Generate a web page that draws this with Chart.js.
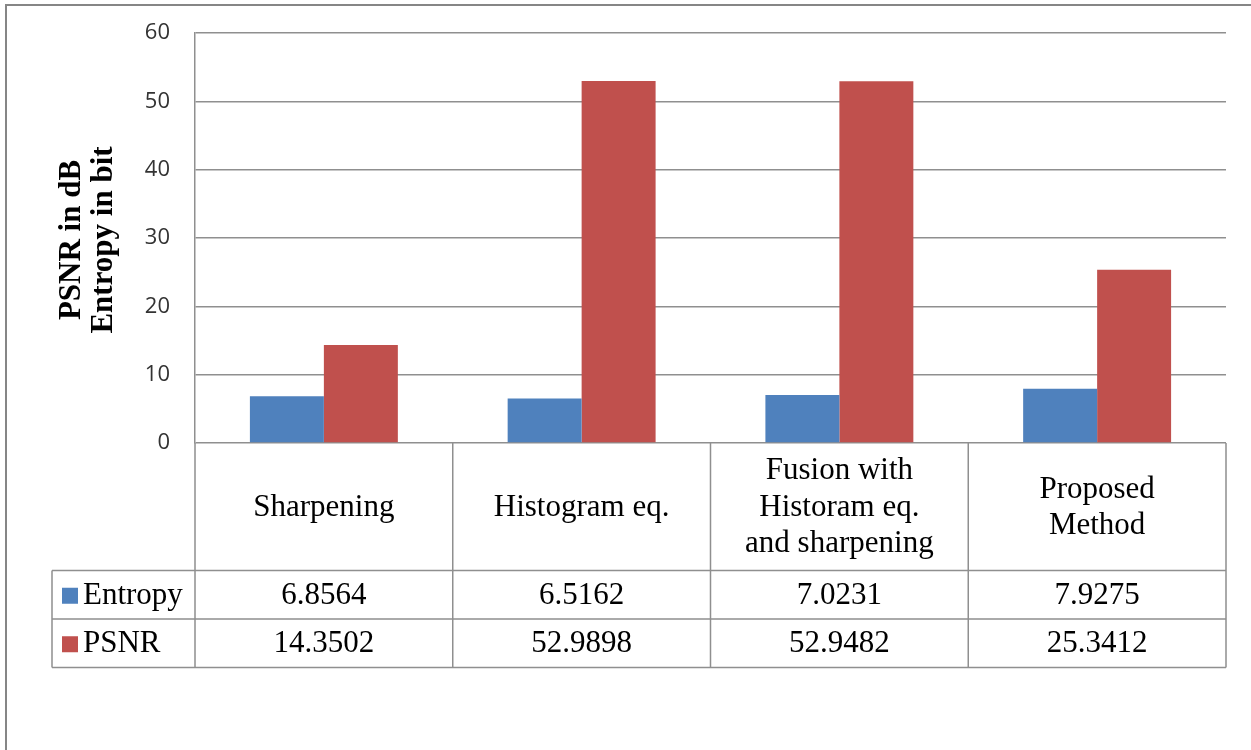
<!DOCTYPE html>
<html>
<head>
<meta charset="utf-8">
<script src="https://cdn.jsdelivr.net/npm/chart.js@4/dist/chart.umd.min.js"></script>
<style>
  html, body { margin: 0; padding: 0; background: #fff; }
  #wrap { width: 1251px; height: 750px; }
</style>
</head>
<body>
<div id="wrap"><canvas id="c" width="1251" height="750"></canvas></div>
<script>
// Methods compared, with the line breaks used in the table header cells
const categories = [
  ['Sharpening'],
  ['Histogram eq.'],
  ['Fusion with', 'Historam eq.', 'and sharpening'],
  ['Proposed', 'Method']
];
const entropy = [6.8564, 6.5162, 7.0231, 7.9275];
const psnr = [14.3502, 52.9898, 52.9482, 25.3412];
const seriesNames = ['Entropy', 'PSNR'];
const seriesColors = ['#4f81bd', '#c0504d'];
const axisTitle = ['PSNR in dB', 'Entropy in bit'];
const yMin = 0, yMax = 60, yStep = 10;

const LINE = '#8f8f8f';
const SERIF = '"Liberation Serif", "Times New Roman", serif';

// Outer frame around the whole chart
const framePlugin = {
  id: 'frame',
  beforeDraw(chart) {
    const ctx = chart.ctx;
    ctx.save();
    ctx.fillStyle = '#fff';
    ctx.fillRect(0, 0, chart.width, chart.height);
    ctx.strokeStyle = '#868686';
    ctx.lineWidth = 2;
    ctx.beginPath();
    ctx.moveTo(6, chart.height);
    ctx.lineTo(6, 5);
    ctx.lineTo(chart.width, 5);
    ctx.stroke();
    ctx.restore();
  }
};

// Rotated two-line axis title on the left
const axisTitlePlugin = {
  id: 'axisTitle',
  afterDraw(chart) {
    const ctx = chart.ctx;
    const a = chart.chartArea;
    const cy = (a.top + a.bottom) / 2;
    ctx.save();
    ctx.fillStyle = '#000';
    ctx.font = 'bold 31px ' + SERIF;
    ctx.textAlign = 'center';
    ctx.textBaseline = 'alphabetic';
    const baselines = [80, 112];
    axisTitle.forEach((t, i) => {
      ctx.save();
      ctx.translate(baselines[i], cy + 2);
      ctx.rotate(-Math.PI / 2);
      ctx.fillText(t, 0, 0);
      ctx.restore();
    });
    ctx.restore();
  }
};

// Data table under the plot: category header row plus one row per series
const dataTablePlugin = {
  id: 'dataTable',
  afterDraw(chart) {
    const ctx = chart.ctx;
    const a = chart.chartArea;
    const x = chart.scales.x;
    const n = categories.length;
    const bounds = [a.left];
    for (let i = 1; i < n; i++) {
      bounds.push((x.getPixelForValue(i - 1) + x.getPixelForValue(i)) / 2);
    }
    bounds.push(a.right);

    const rowTop = a.bottom;
    const headBottom = 570.5;
    const rowH = 48.5;
    const rows = [headBottom, headBottom + rowH, headBottom + 2 * rowH];
    const tableLeft = 52;

    ctx.save();
    ctx.strokeStyle = LINE;
    ctx.lineWidth = 1.5;
    ctx.beginPath();
    // vertical lines of the header row and value rows
    bounds.forEach(bx => {
      ctx.moveTo(bx, rowTop);
      ctx.lineTo(bx, rows[2]);
    });
    ctx.moveTo(tableLeft, rows[0]);
    ctx.lineTo(tableLeft, rows[2]);
    // horizontal lines
    rows.forEach(ry => {
      ctx.moveTo(tableLeft, ry);
      ctx.lineTo(a.right, ry);
    });
    ctx.stroke();

    ctx.fillStyle = '#000';
    ctx.font = '31px ' + SERIF;
    ctx.textAlign = 'center';
    ctx.textBaseline = 'middle';

    // header cells
    const headMid = (rowTop + headBottom) / 2 + 1;
    const lh = 36.5;
    categories.forEach((lines, i) => {
      const cx = (bounds[i] + bounds[i + 1]) / 2;
      const start = headMid - (lines.length - 1) * lh / 2;
      lines.forEach((ln, j) => ctx.fillText(ln, cx, start + j * lh));
    });

    // series rows
    const series = [entropy, psnr];
    series.forEach((vals, r) => {
      const top = rows[r], bottom = rows[r + 1];
      const cyr = (top + bottom) / 2 + 1;
      vals.forEach((v, i) => {
        const cx = (bounds[i] + bounds[i + 1]) / 2;
        ctx.fillText(String(v), cx, cyr);
      });
      // legend key and series name
      ctx.fillStyle = seriesColors[r];
      ctx.fillRect(62, cyr - 8, 16, 16);
      ctx.fillStyle = '#000';
      ctx.textAlign = 'left';
      ctx.fillText(seriesNames[r], 83, cyr);
      ctx.textAlign = 'center';
    });
    ctx.restore();
  }
};

new Chart(document.getElementById('c'), {
  type: 'bar',
  data: {
    labels: categories.map(c => c.join(' ')),
    datasets: [
      { label: seriesNames[0], data: entropy, backgroundColor: seriesColors[0] },
      { label: seriesNames[1], data: psnr, backgroundColor: seriesColors[1] }
    ]
  },
  options: {
    responsive: false,
    animation: false,
    events: [],
    layout: { padding: { top: 33, right: 25, bottom: 307, left: 0 } },
    datasets: { bar: { categoryPercentage: 0.574, barPercentage: 1.0 } },
    plugins: {
      legend: { display: false },
      title: { display: false },
      tooltip: { enabled: false }
    },
    scales: {
      x: { display: false },
      y: {
        min: yMin,
        max: yMax,
        ticks: {
          stepSize: yStep,
          padding: 0,
          color: '#333',
          font: { family: '"Open Sans", sans-serif', size: 22 }
        },
        // invisible tick marks keep the labels clear of the axis line
        grid: { color: LINE, lineWidth: 1.5, drawTicks: true, tickLength: 25, tickColor: 'rgba(0,0,0,0)' },
        border: { color: LINE, width: 1.5 },
        afterFit(scale) { scale.width = 195; }
      }
    }
  },
  plugins: [framePlugin, axisTitlePlugin, dataTablePlugin]
});
</script>
</body>
</html>
